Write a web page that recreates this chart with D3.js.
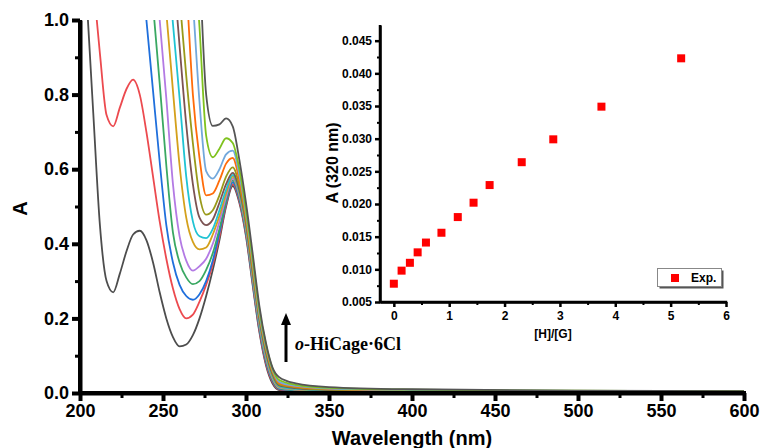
<!DOCTYPE html>
<html lang="en">
<head>
<meta charset="utf-8">
<script src="https://cdn.jsdelivr.net/npm/d3@7"></script>
<style>
body{margin:0;background:#fff;}
svg{display:block;font-family:Arial,"Liberation Sans",sans-serif;}
</style>
</head>
<body>
<div id="chart"></div>
<script>
// wavelength grid (nm) shared by all spectra
const wavelengths=[200,204,208,212,216,220,224,228,232,236,240,244,248,252,256,260,264,268,272,276,280,284,288,292,296,300,304,308,312,316,320,330,350,400,500,600]

// absorbance, one array per titration step (null = off the top)
const spec01=[1.40,1.06,0.75,0.45,0.30,0.27,0.32,0.38,0.425,0.435, 0.41,0.35,0.27,0.20,0.15,0.125,0.13,0.155,0.20,0.26, 0.33,0.41,0.50,0.555,0.51,0.42,0.29,0.165,0.075,0.025, 0.008,0.005,0.003,0.002,0.001,0.001]
const spec02=[null,null,1.10,0.91,0.745,0.715,0.765,0.815,0.84,0.80, 0.70,0.58,0.46,0.36,0.28,0.225,0.20,0.21,0.245,0.29, 0.345,0.42,0.505,0.56,0.515,0.425,0.295,0.17,0.08,0.03, 0.0098,0.0065,0.004,0.003,0.002,0.0015]
const spec03=[null,null,null,null,null,null,null,null,1.4,1.2, 1.0,0.81,0.62,0.45,0.35,0.29,0.26,0.25,0.265,0.30, 0.355,0.43,0.51,0.565,0.52,0.43,0.30,0.175,0.085,0.033, 0.011,0.007,0.0045,0.003,0.002,0.0015]
const spec04=[null,null,null,null,null,null,null,null,null,1.45, 1.25,1.04,0.83,0.61,0.43,0.35,0.31,0.292,0.30,0.33, 0.375,0.44,0.515,0.57,0.525,0.435,0.305,0.18,0.09,0.036, 0.0126,0.008,0.005,0.0035,0.0025,0.002]
const spec05=[null,null,null,null,null,null,null,null,null,null, 1.4,1.2,1.0,0.79,0.56,0.42,0.355,0.328,0.34,0.36, 0.40,0.46,0.525,0.575,0.53,0.44,0.31,0.185,0.095,0.039, 0.0141,0.009,0.0055,0.004,0.003,0.002]
const spec06=[null,null,null,null,null,null,null,null,null,null, null,1.4,1.2,1.02,0.81,0.61,0.47,0.405,0.385,0.39, 0.425,0.475,0.535,0.58,0.535,0.445,0.315,0.19,0.10,0.042, 0.0156,0.010,0.006,0.0045,0.003,0.0025]
const spec07=[null,null,null,null,null,null,null,null,null,null, null,null,1.4,1.2,0.99,0.79,0.58,0.46,0.42,0.415, 0.44,0.49,0.545,0.585,0.54,0.45,0.32,0.195,0.105,0.046, 0.018,0.011,0.007,0.005,0.0035,0.003]
const spec08=[null,null,null,null,null,null,null,null,null,null, null,null,null,1.37,1.15,0.93,0.72,0.56,0.47,0.45, 0.465,0.51,0.56,0.59,0.545,0.455,0.325,0.20,0.11,0.05, 0.0202,0.013,0.008,0.0055,0.004,0.003]
const spec09=[null,null,null,null,null,null,null,null,null,null, null,null,null,null,1.3,1.06,0.85,0.67,0.53,0.478, 0.49,0.53,0.58,0.605,0.555,0.46,0.33,0.205,0.115,0.054, 0.0229,0.015,0.009,0.006,0.0045,0.0035]
const spec10=[null,null,null,null,null,null,null,null,null,null, null,null,null,null,null,1.35,1.1,0.80,0.63,0.53, 0.535,0.57,0.615,0.63,0.57,0.47,0.34,0.21,0.12,0.058, 0.0264,0.017,0.011,0.007,0.005,0.004]
const spec11=[null,null,null,null,null,null,null,null,null,null, null,null,null,null,null,null,1.3,1.05,0.78,0.595, 0.575,0.60,0.64,0.65,0.585,0.48,0.35,0.215,0.125,0.062, 0.0299,0.019,0.012,0.008,0.0055,0.0045]
const spec12=[null,null,null,null,null,null,null,null,null,null, null,null,null,null,null,null,1.55,1.25,0.98,0.69, 0.632,0.655,0.683,0.67,0.60,0.49,0.36,0.225,0.13,0.065, 0.0349,0.022,0.014,0.009,0.006,0.005]
const spec13=[null,null,null,null,null,null,null,null,null,null, null,null,null,null,null,null,null,1.5,1.15,0.80, 0.716,0.72,0.736,0.715,0.625,0.51,0.375,0.235,0.135,0.068, 0.0423,0.026,0.016,0.010,0.0065,0.005]
const spectra=[spec01,spec02,spec03,spec04,spec05,spec06,spec07,spec08,spec09,spec10,spec11,spec12,spec13]
const lineColors=["#4d4d4d","#ec4a4f","#1f6fdc","#3aa862","#b37ae4","#d4a01b","#20c3d3","#7c5353","#999a1a","#ff6c0a","#72a8dc","#7fc21e","#555555"]

// inset: absorbance at 320 nm vs [H]/[G]
const ratioHG=[0,0.14,0.29,0.43,0.58,0.86,1.155,1.44,1.73,2.31,2.88,3.75,5.19]
const abs320=[0.0078,0.0098,0.011,0.0126,0.0141,0.0156,0.018,0.0202,0.0229,0.0264,0.0299,0.0349,0.0423]

const mainXTicks=[200,250,300,350,400,450,500,550,600]
const mainXMinor=[225,275,325,375,425,475,525,575]
const mainYTicks=[0,0.2,0.4,0.6,0.8,1.0]
const mainYMinor=[0.1,0.3,0.5,0.7,0.9]
const insetXTicks=[0,1,2,3,4,5,6]
const insetXMinor=[0.5,1.5,2.5,3.5,4.5,5.5]
const insetYTicks=[0.005,0.010,0.015,0.020,0.025,0.030,0.035,0.040,0.045]
const insetYMinor=[0.0075,0.0125,0.0175,0.0225,0.0275,0.0325,0.0375,0.0425]

const FONT="Arial,'Liberation Sans',sans-serif"
const svg=d3.select("#chart").append("svg").attr("width",763).attr("height",448)

////////////// main plot
const x=d3.scaleLinear().domain([200,600]).range([80,744])
const y=d3.scaleLinear().domain([0,1]).range([393,20])

svg.append("clipPath").attr("id","plotclip").append("rect")
  .attr("x",x(200)).attr("y",y(1)).attr("width",x(600)-x(200)).attr("height",y(0)-y(1))

const line=d3.line().defined(d=>d[1]!=null).x(d=>x(d[0])).y(d=>y(d[1])).curve(d3.curveMonotoneX)
const curves=svg.append("g").attr("clip-path","url(#plotclip)")
spectra.forEach((s,i)=>{
  curves.append("path").datum(wavelengths.map((w,j)=>[w,s[j]]))
    .attr("d",line).attr("fill","none").attr("stroke",lineColors[i]).attr("stroke-width",1.8)
})

function styleAxis(g,w,fs){
  g.attr("font-family",FONT)
  g.select(".domain").attr("stroke","#000").attr("stroke-width",w)
  g.selectAll(".tick line").attr("stroke","#000").attr("stroke-width",w)
  g.selectAll(".tick text").attr("fill","#000").style("font-size",fs+"px").style("font-weight","bold")
}
// solid bar along an axis (drawn as a filled rect so the weight is certain)
function axisBar(x0,y0,x1,y1,w){
  svg.append("rect").attr("x",Math.min(x0,x1)-(x0==x1?w/2:0)).attr("y",Math.min(y0,y1)-(y0==y1?w/2:0))
    .attr("width",x0==x1?w:Math.abs(x1-x0)+w/2).attr("height",y0==y1?w:Math.abs(y1-y0)+w/2).attr("fill","#000")
}

const gx=svg.append("g").attr("transform","translate(0,"+y(0)+")")
  .call(d3.axisBottom(x).tickValues(mainXTicks).tickSize(8).tickSizeOuter(0).tickPadding(3).tickFormat(d3.format("d")))
styleAxis(gx,4,18)
const gxm=svg.append("g").attr("transform","translate(0,"+y(0)+")")
  .call(d3.axisBottom(x).tickValues(mainXMinor).tickSize(5).tickFormat(""))
gxm.select(".domain").remove(); gxm.selectAll(".tick line").attr("stroke","#000").attr("stroke-width",3)

const gy=svg.append("g").attr("transform","translate("+x(200)+",0)")
  .call(d3.axisLeft(y).tickValues(mainYTicks).tickSize(8).tickSizeOuter(0).tickPadding(3).tickFormat(d3.format(".1f")))
styleAxis(gy,4,18)
const gym=svg.append("g").attr("transform","translate("+x(200)+",0)")
  .call(d3.axisLeft(y).tickValues(mainYMinor).tickSize(5).tickFormat(""))
gym.select(".domain").remove(); gym.selectAll(".tick line").attr("stroke","#000").attr("stroke-width",3)
axisBar(x(200),y(0),x(600),y(0),4)
axisBar(x(200),y(1),x(200),y(0),4)

svg.append("text").attr("x",(x(200)+x(600))/2).attr("y",445).attr("text-anchor","middle")
  .style("font-size","20px").style("font-weight","bold").text("Wavelength (nm)")
svg.append("text").attr("transform","translate(27,"+((y(0)+y(1))/2+2)+") rotate(-90)").attr("text-anchor","middle")
  .style("font-size","20px").style("font-weight","bold").text("A")

// arrow + label
svg.append("line").attr("x1",286).attr("x2",286).attr("y1",362).attr("y2",322).attr("stroke","#000").attr("stroke-width",3)
svg.append("path").attr("d","M286,313L281,325L291,325Z").attr("fill","#000")
const lab=svg.append("text").attr("x",295).attr("y",350)
  .style("font-family","'Liberation Serif','Times New Roman',serif").style("font-size","18px").style("font-weight","bold")
lab.append("tspan").style("font-style","italic").text("o")
lab.append("tspan").text("-HiCage·6Cl")

////////////// inset
const ix=d3.scaleLinear().domain([-0.25,6]).range([380,726])
const iy=d3.scaleLinear().domain([0.005,0.0474]).range([302,25])

const igx=svg.append("g").attr("transform","translate(0,"+iy.range()[0]+")")
  .call(d3.axisBottom(ix).tickValues(insetXTicks).tickSize(5).tickSizeOuter(0).tickPadding(4).tickFormat(d3.format("d")))
styleAxis(igx,2.5,12)
const igxm=svg.append("g").attr("transform","translate(0,"+iy.range()[0]+")")
  .call(d3.axisBottom(ix).tickValues(insetXMinor).tickSize(3).tickFormat(""))
igxm.select(".domain").remove(); igxm.selectAll(".tick line").attr("stroke","#000").attr("stroke-width",2)

const igy=svg.append("g").attr("transform","translate("+ix.range()[0]+",0)")
  .call(d3.axisLeft(iy).tickValues(insetYTicks).tickSize(5).tickSizeOuter(0).tickPadding(3).tickFormat(d3.format(".3f")))
styleAxis(igy,2.5,12)
const igym=svg.append("g").attr("transform","translate("+ix.range()[0]+",0)")
  .call(d3.axisLeft(iy).tickValues(insetYMinor).tickSize(3).tickFormat(""))
igym.select(".domain").remove(); igym.selectAll(".tick line").attr("stroke","#000").attr("stroke-width",2)
axisBar(ix.range()[0],iy.range()[0],ix.range()[1],iy.range()[0],2.5)
axisBar(ix.range()[0],iy.range()[1],ix.range()[0],iy.range()[0],2.5)

svg.append("g").selectAll("rect").data(ratioHG).enter().append("rect")
  .attr("x",(d,i)=>ix(d)-4).attr("y",(d,i)=>iy(abs320[i])-4).attr("width",8).attr("height",8).attr("fill","#ff0000")

svg.append("text").attr("x",553).attr("y",338).attr("text-anchor","middle")
  .style("font-size","12px").style("font-weight","bold").text("[H]/[G]")
svg.append("text").attr("transform","translate(338,163) rotate(-90)").attr("text-anchor","middle")
  .style("font-size","16px").style("font-weight","bold").text("A (320 nm)")

// legend
const lg=svg.append("g")
lg.append("rect").attr("x",659.5).attr("y",270.5).attr("width",64).attr("height",18).attr("fill","#555")
lg.append("rect").attr("x",657.5).attr("y",268.5).attr("width",64).attr("height",18).attr("fill","#fff").attr("stroke","#888")
lg.append("rect").attr("x",671).attr("y",274).attr("width",8).attr("height",8).attr("fill","#ff0000")
lg.append("text").attr("x",691).attr("y",282).style("font-size","12px").style("font-weight","bold").text("Exp.")
</script>
</body>
</html>
